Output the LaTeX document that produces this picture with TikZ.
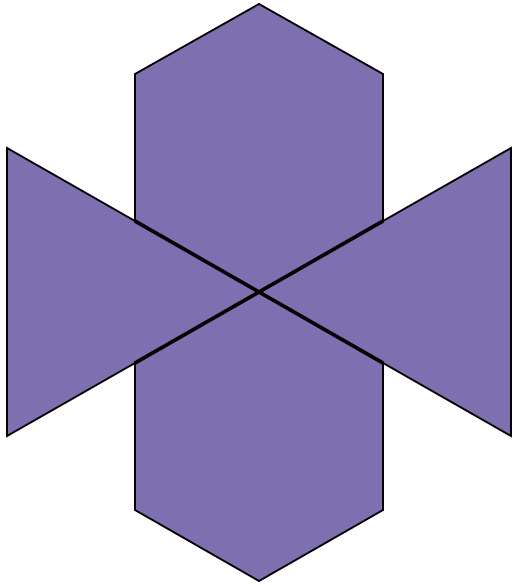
\documentclass[tikz,border=0pt]{standalone}
\usepackage{tikz}
\usepackage{xcolor}
\definecolor{petal}{HTML}{7E6FB0}
\definecolor{ink}{HTML}{000000}
\tikzset{
  bowfill/.style={draw=ink,fill=petal,line width=1.8pt,line join=miter},
  crossline/.style={draw=ink,line width=3.6pt}
}

\begin{document}
\begin{tikzpicture}[x=1pt,y=-1pt]
  \useasboundingbox (0,0) rectangle (511,585);
  % corners where the triangles meet the hexagon
  \coordinate (ul) at (135,221);
  \coordinate (ur) at (383,221);
  \coordinate (ll) at (135,363);
  \coordinate (lr) at (383,363);
  \coordinate (mid) at (259,292);

  \draw[bowfill] (259,4) -- (383,74) -- (ur) -- (511,148) -- (511,436)
    -- (lr) -- (383,510) -- (259,581) -- (135,510) -- (ll)
    -- (7,436) -- (7,148) -- (ul) -- (135,74) -- cycle;

  \draw[crossline] (ul) -- (mid) -- (lr);
  \draw[crossline] (ll) -- (mid) -- (ur);
\end{tikzpicture}
\end{document}
